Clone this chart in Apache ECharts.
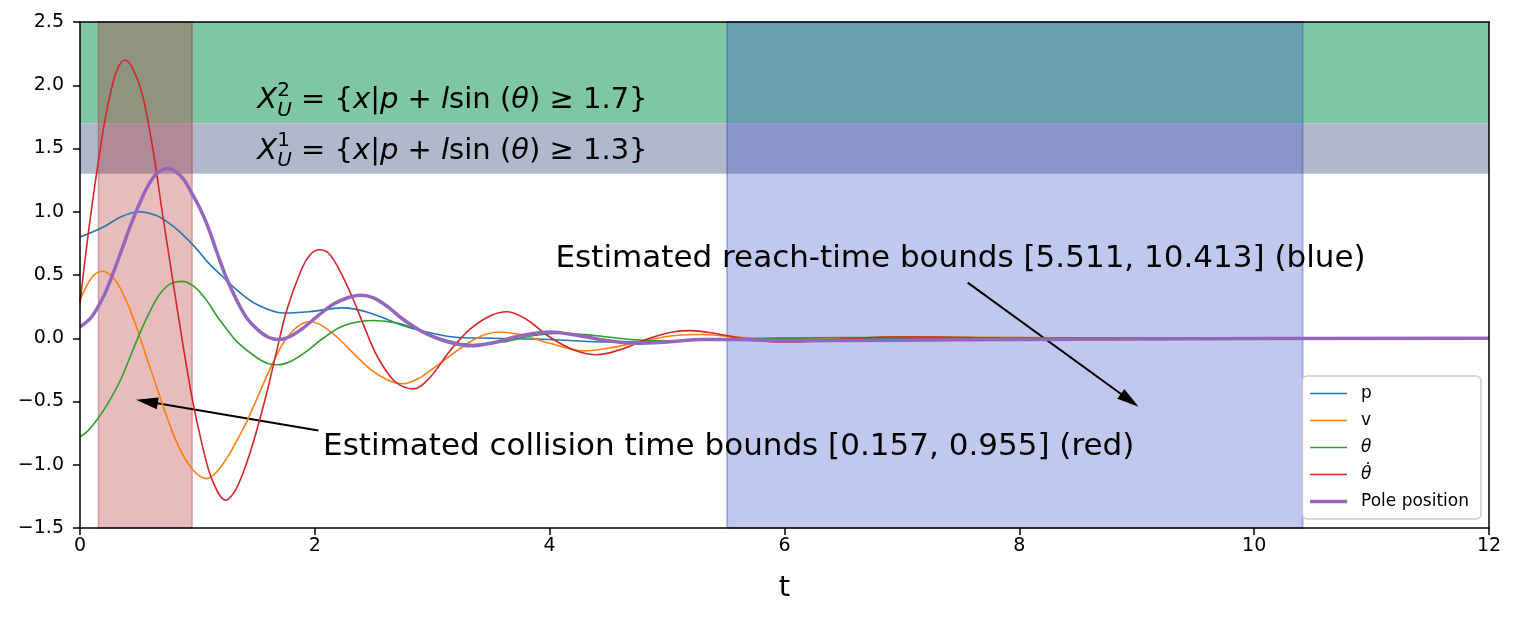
<!DOCTYPE html>
<html>
<head>
<meta charset="utf-8">
<script src="https://cdn.jsdelivr.net/npm/echarts@6/dist/echarts.min.js"></script>
<style>
  html, body { margin: 0; padding: 0; background: #fff; }
  #main { width: 1517px; height: 617px; }
</style>
</head>
<body>
<div id="main"></div>
<script>
// [t, value] samples
const pData = [[0,0.80],[0.2,0.88],[0.35,0.96],[0.5,1.0],[0.65,0.97],[0.8,0.88],[0.96,0.74],[1.1,0.59],[1.2,0.50],[1.35,0.37],[1.5,0.27],[1.73,0.20],[1.95,0.21],[2.24,0.24],[2.47,0.20],[2.75,0.10],[2.95,0.05],[3.18,0.01],[3.5,0.0],[4.0,-0.01],[4.5,-0.03],[5.0,-0.02],[5.5,-0.01],[6.0,0.0],[7,0],[12,0]]
const vData = [[0,0.30],[0.1,0.48],[0.19,0.53],[0.27,0.49],[0.34,0.40],[0.42,0.24],[0.5,0.04],[0.57,-0.16],[0.64,-0.35],[0.72,-0.57],[0.8,-0.77],[0.88,-0.93],[0.96,-1.04],[1.02,-1.09],[1.08,-1.11],[1.16,-1.06],[1.25,-0.95],[1.33,-0.82],[1.42,-0.66],[1.51,-0.47],[1.62,-0.24],[1.73,-0.04],[1.85,0.09],[1.96,0.13],[2.06,0.10],[2.2,0.0],[2.33,-0.12],[2.48,-0.25],[2.62,-0.33],[2.75,-0.36],[2.88,-0.32],[3.02,-0.23],[3.18,-0.12],[3.32,-0.03],[3.45,0.03],[3.58,0.05],[3.75,0.03],[4.0,-0.04],[4.29,-0.10],[4.55,-0.07],[4.8,-0.02],[5.05,0.02],[5.28,0.03],[5.6,0.01],[6.0,-0.01],[6.5,0.0],[7.0,0.01],[8,0.005],[9,0],[12,0]]
const thetaData = [[0,-0.78],[0.07,-0.73],[0.14,-0.65],[0.2,-0.57],[0.26,-0.48],[0.35,-0.32],[0.43,-0.14],[0.51,0.04],[0.6,0.22],[0.68,0.35],[0.77,0.43],[0.87,0.45],[0.97,0.41],[1.07,0.31],[1.17,0.17],[1.26,0.06],[1.34,-0.03],[1.5,-0.15],[1.6,-0.20],[1.68,-0.21],[1.8,-0.18],[1.95,-0.09],[2.07,0.0],[2.25,0.10],[2.5,0.14],[2.7,0.12],[2.9,0.06],[3.1,-0.01],[3.35,-0.05],[3.6,-0.03],[3.85,0.02],[4.1,0.04],[4.4,0.02],[4.7,-0.01],[5.0,-0.02],[5.4,-0.01],[5.8,0.0],[6.5,0.005],[12,0]]
const thetaDotData = [[0,0.28],[0.085,0.93],[0.2,1.66],[0.28,2.02],[0.33,2.15],[0.38,2.20],[0.45,2.13],[0.53,1.93],[0.62,1.50],[0.70,1.00],[0.77,0.58],[0.83,0.22],[0.95,-0.45],[1.05,-0.88],[1.13,-1.13],[1.24,-1.28],[1.33,-1.19],[1.45,-0.90],[1.58,-0.47],[1.67,-0.12],[1.76,0.22],[1.88,0.53],[1.96,0.66],[2.04,0.70],[2.12,0.67],[2.22,0.52],[2.33,0.30],[2.43,0.07],[2.53,-0.14],[2.68,-0.34],[2.84,-0.40],[2.98,-0.31],[3.15,-0.10],[3.32,0.07],[3.5,0.18],[3.64,0.21],[3.8,0.15],[4.0,0.01],[4.2,-0.09],[4.4,-0.13],[4.6,-0.09],[4.85,0.0],[5.05,0.05],[5.2,0.06],[5.4,0.04],[5.7,-0.01],[6.0,-0.03],[6.3,-0.02],[6.6,0.0],[6.9,0.01],[7.3,0.01],[7.8,0.0],[8.5,0],[12,0]]
const poleData = [[0,0.09],[0.1,0.17],[0.2,0.33],[0.28,0.51],[0.36,0.71],[0.43,0.89],[0.5,1.05],[0.57,1.19],[0.64,1.29],[0.7,1.33],[0.75,1.34],[0.81,1.32],[0.88,1.26],[0.95,1.15],[1.02,1.03],[1.09,0.88],[1.17,0.67],[1.25,0.47],[1.34,0.29],[1.42,0.16],[1.51,0.07],[1.6,0.01],[1.69,-0.01],[1.78,0.01],[1.9,0.08],[2.03,0.18],[2.16,0.27],[2.28,0.32],[2.39,0.34],[2.5,0.32],[2.62,0.25],[2.75,0.15],[2.9,0.06],[3.04,0.0],[3.18,-0.04],[3.32,-0.06],[3.5,-0.04],[3.75,0.02],[4.0,0.05],[4.25,0.02],[4.5,-0.02],[4.74,-0.04],[5.0,-0.03],[5.3,-0.01],[5.6,-0.01],[6.0,-0.02],[7.0,-0.015],[8,-0.01],[9,-0.005],[12,0]]

const seriesNames = ['p', 'v', 'θ', 'θ̇', 'Pole position']
const seriesColors = ['#1f77b4', '#ff7f0e', '#2ca02c', '#d62728', '#9467bd']
const lineWidths = [1.6, 1.6, 1.6, 1.6, 3.5]

// horizontal unsafe-set bands [y0, y1] and estimated time windows [t0, t1]
const band2 = [1.7, 2.5]
const band1 = [1.3, 1.7]
const collisionBounds = [0.157, 0.955]
const reachBounds = [5.511, 10.413]

const xTicks = [0, 12, 2]
const yTicks = [-1.5, 2.5, 0.5]

const FONT = 'DejaVu Sans'

const chart = echarts.init(document.getElementById('main'))

const lineSeries = [pData, vData, thetaData, thetaDotData, poleData].map((d, i) => ({
  name: seriesNames[i],
  type: 'line',
  data: d,
  smooth: 0.35,
  symbol: 'none',
  z: 5 + i,
  lineStyle: { width: lineWidths[i], color: seriesColors[i] },
  itemStyle: { color: seriesColors[i] }
}))

const eq = (n, v) => '{x|X}{sup|' + n + '}{sub|U} = {{x|x}|{x|p} + {x|l}sin ({x|θ}) ≥ ' + v + '}'
const eqRich = {
  x: { fontStyle: 'italic', fontSize: 29, fontFamily: FONT, color: '#000', lineHeight: 40 },
  sup: { fontSize: 20, fontFamily: FONT, color: '#000', width: 0, verticalAlign: 'top', lineHeight: 25 },
  sub: { fontSize: 20, fontStyle: 'italic', fontFamily: FONT, color: '#000', verticalAlign: 'bottom', lineHeight: 15 }
}

chart.setOption({
  animation: false,
  grid: { left: 80, right: 28, top: 22, bottom: 89 },
  xAxis: [{
    type: 'value', min: xTicks[0], max: xTicks[1], interval: xTicks[2], z: 20,
    name: 't', nameLocation: 'middle', nameGap: 46,
    nameTextStyle: { fontSize: 29, fontFamily: FONT, color: '#000' },
    axisLine: { onZero: false, lineStyle: { color: '#000', width: 1.5 } },
    axisTick: { length: 7, lineStyle: { color: '#000', width: 1.5 } },
    axisLabel: { fontSize: 19, fontFamily: FONT, color: '#000', margin: 9 },
    splitLine: { show: false }
  }, {
    type: 'value', position: 'top', min: xTicks[0], max: xTicks[1], z: 20,
    axisLine: { onZero: false, lineStyle: { color: '#000', width: 1.5 } },
    axisTick: { show: false }, axisLabel: { show: false }, splitLine: { show: false }
  }],
  yAxis: [{
    type: 'value', min: yTicks[0], max: yTicks[1], interval: yTicks[2], z: 20,
    axisLine: { show: true, onZero: false, lineStyle: { color: '#000', width: 1.5 } },
    axisTick: { show: true, length: 7, lineStyle: { color: '#000', width: 1.5 } },
    axisLabel: { fontSize: 19, fontFamily: FONT, color: '#000', margin: 16,
      formatter: v => v.toFixed(1).replace('-', '\u2212') },
    splitLine: { show: false }
  }, {
    type: 'value', position: 'right', min: yTicks[0], max: yTicks[1], z: 20,
    axisLine: { show: true, onZero: false, lineStyle: { color: '#000', width: 1.5 } },
    axisTick: { show: false }, axisLabel: { show: false }, splitLine: { show: false }
  }],
  legend: {
    data: seriesNames.map((n, i) => ({ name: n, lineStyle: { width: lineWidths[i] } })),
    orient: 'vertical',
    right: 36, bottom: 98,
    padding: [9, 12, 9, 6],
    itemGap: 10,
    itemWidth: 37, itemHeight: 14,
    itemStyle: { opacity: 0 },
    backgroundColor: 'rgba(255,255,255,0.8)',
    borderColor: '#cccccc', borderWidth: 1.5, borderRadius: 5,
    textStyle: { fontSize: 17, fontFamily: FONT, color: '#000', padding: [0, 0, 0, 9],
      rich: { it: { fontStyle: 'italic', fontSize: 17, fontFamily: FONT, color: '#000' } } },
    formatter: n => (n === 'θ' || n === 'θ̇') ? '{it|' + n + '}' : n
  },
  series: [
    {
      type: 'line', data: [], z: 1, silent: true,
      markArea: {
        silent: true, label: { show: false },
        data: [
          [{ xAxis: xTicks[0], yAxis: band2[0], itemStyle: { color: '#7fc6a5' } }, { xAxis: xTicks[1], yAxis: band2[1] }],
          [{ xAxis: xTicks[0], yAxis: band1[0], itemStyle: { color: '#b0b8cc' } }, { xAxis: xTicks[1], yAxis: band1[1] }]
        ]
      }
    },
    {
      type: 'line', data: [], z: 2, silent: true,
      markArea: {
        silent: true, label: { show: false },
        data: [
          [{ xAxis: collisionBounds[0], yAxis: yTicks[0], itemStyle: { color: 'rgba(178,34,34,0.3)', borderColor: 'rgba(178,34,34,0.35)', borderWidth: 1.5 } },
           { xAxis: collisionBounds[1], yAxis: yTicks[1] }],
          [{ xAxis: reachBounds[0], yAxis: yTicks[0], itemStyle: { color: 'rgba(48,72,198,0.3)', borderColor: 'rgba(48,72,198,0.35)', borderWidth: 2 } },
           { xAxis: reachBounds[1], yAxis: yTicks[1] }]
        ]
      }
    },
    ...lineSeries,
    {
      type: 'line', data: [], z: 15, silent: true,
      markLine: {
        silent: true, symbol: ['none', 'triangle'], symbolSize: [12, 22],
        label: { show: false },
        lineStyle: { color: '#000', width: 2, type: 'solid' },
        data: [
          [{ coord: [7.56, 0.44] }, { coord: [8.94, -0.49] }],
          [{ coord: [2.03, -0.73] }, { coord: [0.57, -0.5] }]
        ]
      },
      markPoint: {
        silent: true, symbol: 'circle', symbolSize: 0,
        label: { show: true, position: 'right', distance: 0, color: '#000', fontSize: 31, fontFamily: FONT },
        data: [
          { coord: [1.51, 1.88], label: { fontSize: 29, formatter: eq(2, '1.7'), rich: eqRich } },
          { coord: [1.51, 1.48], label: { fontSize: 29, formatter: eq(1, '1.3'), rich: eqRich } },
          { coord: [4.05, 0.63], label: { formatter: 'Estimated reach-time bounds [5.511, 10.413] (blue)' } },
          { coord: [2.07, -0.86], label: { formatter: 'Estimated collision time bounds [0.157, 0.955] (red)' } }
        ]
      }
    }
  ]
})
</script>
</body>
</html>
